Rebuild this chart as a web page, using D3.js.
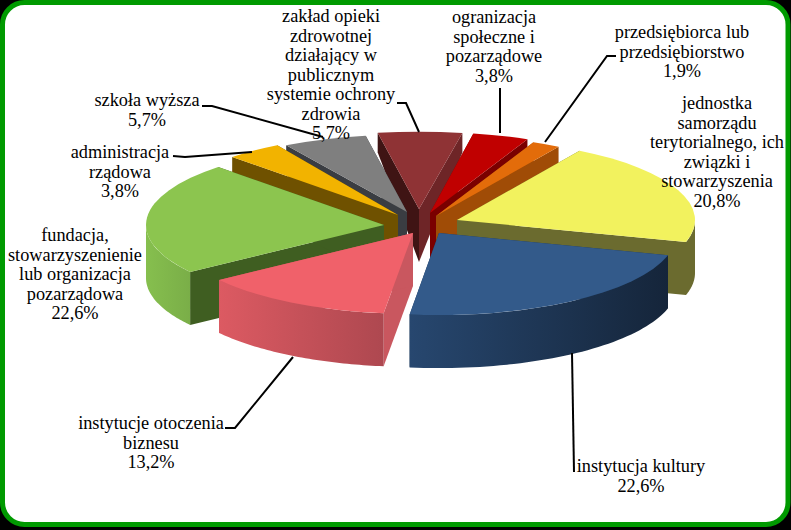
<!DOCTYPE html>
<html><head><meta charset="utf-8">
<script src="https://cdnjs.cloudflare.com/ajax/libs/d3/7.8.5/d3.min.js"></script>
<style>html,body{margin:0;padding:0;background:#000;overflow:hidden}svg{display:block}
text{font-family:"Liberation Serif",serif;font-size:18.3px;fill:#000;text-anchor:middle}</style>
</head><body><svg id="c" width="791" height="530"></svg>
<script>
// Data (clockwise from the upper right)
const categories = ["jednostka samorządu terytorialnego, ich związki i stowarzyszenia","instytucja kultury","instytucje otoczenia biznesu","fundacja, stowarzyszenienie lub organizacja pozarządowa","administracja rządowa","szkoła wyższa","zakład opieki zdrowotnej działający w publicznym systemie ochrony zdrowia","ogranizacja społeczne i pozarządowe","przedsiębiorca lub przedsiębiorstwo"];
const values = [20.8,22.6,13.2,22.6,3.8,5.7,5.7,3.8,1.9];
const valueLabels = ["20,8%","22,6%","13,2%","22,6%","3,8%","5,7%","5,7%","3,8%","1,9%"];
const labelLines = [
 ["jednostka","samorządu","terytorialnego, ich","związki i","stowarzyszenia"],
 ["instytucja kultury"],
 ["instytucje otoczenia","biznesu"],
 ["fundacja,","stowarzyszenienie","lub organizacja","pozarządowa"],
 ["administracja","rządowa"],
 ["szkoła wyższa"],
 ["zakład opieki","zdrowotnej","działający w","publicznym","systemie ochrony","zdrowia"],
 ["ogranizacja","społeczne i","pozarządowe"],
 ["przedsiębiorca lub","przedsiębiorstwo"]
];
// Styles and layout
const topColors = ["#f2f25e","#335a8a","#f0616a","#8cc54f","#f2b300","#7f7f7f","#8f3335","#c00000","#e36c0a"];
const startWall = ["#6b6b2f","#1d3553","#c9575f","#3f5e21","#6f5100","#3a3d42","#3f1414","#7a0000","#a04c06"];
const endWall   = ["#6b6b2f","#1d3553","#c9575f","#3f5e21","#6f5100","#3a3d42","#6e2527","#7a0000","#a04c06"];
const rimLeft   = ["#6b6b2f","#27476f","#dc5a62","#86bf4e","#6f5100","#3a3d42","#3f1414","#7a0000","#a04c06"];
const rimRight  = ["#6b6b2f","#15253a","#ae4850","#7aae48","#6f5100","#3a3d42","#3f1414","#7a0000","#a04c06"];
const sliceX = [457,439,413,384,398,407,419,430,436];
const sliceY = [220,233,233,225,215,212,209,213,216];
const sliceFlat = [0.34,0.345,0.34,0.34,0.34,0.325,0.325,0.34,0.34];
const drawOrder = [6,5,4,3,7,8,0,1,2];
const labelX = [717,641,151,75,120,147,331,494,682];
const labelY = [109,472,429,241,158,106,22,23,38];
const lineGap = 19.5;
const leaders = [null,[[572,353],[574,472]],[[293,357],[235,428],[225,428]],null,[[173,156],[185,157],[252,152]],[[202,106],[212,106],[323,137]],[[397,103],[406,103],[419,132]],[[500,88],[500,133]],[[616,56],[607,56],[545,142]]];

const svg = d3.select("#c");
const defs = svg.append("defs");
svg.append("rect").attr("x",2.5).attr("y",2.5).attr("width",785.5).attr("height",522)
   .attr("rx",22).attr("fill","#fff").attr("stroke","#009a00").attr("stroke-width",5);

const a = 238, depth = 53, backShrink = 0.44;
const rx = d3.scaleLinear().domain([0,1]).range([0,a]);
const start = 31*Math.PI/180;
const pie = d3.pie().sort(null).value(d=>d).startAngle(start).endAngle(start+2*Math.PI);
const arcs = pie(values);
const arc = d3.arc().innerRadius(0).outerRadius(rx(1));
const line = d3.line();

const px = (i,t)=>sliceX[i]+rx(Math.sin(t));
const dyOf = (i,t)=>-rx(Math.cos(t))*sliceFlat[i];
const py = (i,t)=>sliceY[i]+dyOf(i,t);
const drop = dy => depth + backShrink*Math.min(0,dy);
const wall = (i,t)=>line([[sliceX[i],sliceY[i]],[px(i,t),py(i,t)],[px(i,t),py(i,t)+drop(dyOf(i,t))],[sliceX[i],sliceY[i]+depth]])+"Z";

drawOrder.forEach(i=>{
  const d = arcs[i], g = svg.append("g");
  g.append("path").attr("d",wall(i,d.startAngle)).attr("fill",startWall[i]);
  g.append("path").attr("d",wall(i,d.endAngle)).attr("fill",endWall[i]);
  const s=Math.max(d.startAngle,Math.PI/2), e=Math.min(d.endAngle,1.5*Math.PI);
  if(s<e){
    const ts=d3.range(0,49).map(k=>s+(e-s)*k/48);
    const upper=ts.map(t=>[px(i,t),py(i,t)]);
    const lower=ts.map(t=>[px(i,t),py(i,t)+depth]).reverse();
    const id="rim"+i;
    const gr=defs.append("linearGradient").attr("id",id);
    gr.append("stop").attr("offset",0).attr("stop-color",rimLeft[i]);
    gr.append("stop").attr("offset",1).attr("stop-color",rimRight[i]);
    g.append("path").attr("d",line(upper.concat(lower))+"Z").attr("fill",`url(#${id})`);
  }
  g.append("path").attr("d",arc(d))
   .attr("transform",`translate(${sliceX[i]},${sliceY[i]}) scale(1,${sliceFlat[i]})`)
   .attr("fill",topColors[i]);
});

leaders.forEach(l=>{ if(l) svg.append("path").attr("d",line(l)).attr("fill","none").attr("stroke","#000").attr("stroke-width",2); });

categories.forEach((c,i)=>{
  const t=svg.append("text").attr("x",labelX[i]).attr("y",labelY[i]);
  labelLines[i].concat(valueLabels[i]).forEach((ln,j)=>{
    t.append("tspan").attr("x",labelX[i]).attr("y",labelY[i]+j*lineGap).text(ln);
  });
});
</script></body></html>
